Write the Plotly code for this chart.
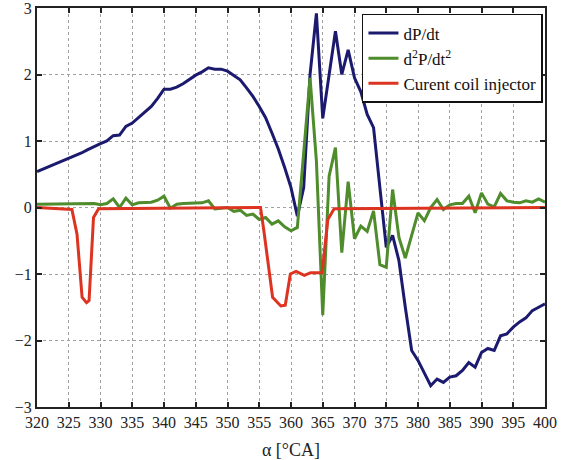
import plotly.graph_objects as go

# dP/dt sampled every degree
angle = list(range(320, 401))
dpdt = [0.54, 0.58, 0.62, 0.66, 0.69, 0.73, 0.78, 0.82, 0.87, 0.92,
        0.96, 1.0, 1.08, 1.09, 1.22, 1.27, 1.35, 1.43, 1.52, 1.64,
        1.78, 1.78, 1.81, 1.86, 1.93, 1.99, 2.04, 2.1, 2.08, 2.08,
        2.05, 1.98, 1.92, 1.8, 1.67, 1.52, 1.35, 1.12, 0.88, 0.6,
        0.3, -0.13, 0.3, 2.0, 2.92, 1.34, 2.0, 2.65, 2.0, 2.37,
        1.95, 1.74, 1.4, 1.2, 0.3, -0.6, -0.42, -0.8, -1.5, -2.15,
        -2.3, -2.5, -2.68, -2.58, -2.63, -2.55, -2.53, -2.45, -2.33, -2.4,
        -2.18, -2.12, -2.15, -1.93, -1.9, -1.8, -1.72, -1.66, -1.55, -1.5,
        -1.45]

# d2P/dt2 sampled every degree
d2pdt2 = [0.05, 0.05, 0.05, 0.05, 0.05, 0.05, 0.06, 0.06, 0.05, 0.06,
          0.04, 0.06, 0.13, 0.0, 0.14, 0.04, 0.07, 0.08, 0.08, 0.11,
          0.17, -0.01, 0.05, 0.06, 0.06, 0.07, 0.07, 0.1, -0.02, -0.01,
          0.0, -0.06, -0.04, -0.12, -0.1, -0.18, -0.15, -0.25, -0.2, -0.29,
          -0.35, -0.3, 0.8, 1.95, 0.7, -1.62, 0.47, 0.9, -0.68, 0.39,
          -0.47, -0.28, -0.36, -0.05, -0.86, -0.9, 0.27, -0.45, -0.76, -0.43,
          -0.08, -0.2, 0.0, 0.12, -0.03, 0.04, 0.06, 0.06, 0.17, -0.08,
          0.22, 0.05, 0.01, 0.21, 0.1, 0.08, 0.07, 0.1, 0.08, 0.13,
          0.08]

# injector coil current
coil_angle = [320, 325.5, 326.3, 327.1, 327.8, 328.2, 328.9, 329.7, 355.2, 355.7,
              357.1, 358.4, 359.1, 359.9, 360.8, 362.1, 363.1, 364.9, 365.8, 366.8, 400]
coil_current = [0, -0.03, -0.4, -1.35, -1.43, -1.4, -0.15, -0.02, 0, -0.33,
                -1.35, -1.48, -1.47, -1.0, -0.96, -1.02, -0.98, -0.98, -0.18, -0.02, 0]

x_ticks = list(range(320, 401, 5))
y_ticks = [-3, -2, -1, 0, 1, 2, 3]

FONT = "Liberation Serif"

fig = go.Figure()
fig.add_trace(go.Scatter(x=angle, y=dpdt, mode="lines", name="dP/dt",
                         line=dict(color="#1b1a6e", width=3)))
fig.add_trace(go.Scatter(x=angle, y=d2pdt2, mode="lines", name="d<sup>2</sup>P/dt<sup>2</sup>",
                         line=dict(color="#4e8c2c", width=3)))
fig.add_trace(go.Scatter(x=coil_angle, y=coil_current, mode="lines", name="Curent coil injector",
                         line=dict(color="#dc3420", width=3)))

axis_common = dict(
    showline=True, linecolor="#222", linewidth=2, mirror="ticks",
    ticks="inside", ticklen=5, tickcolor="#222", tickwidth=1.5,
    showgrid=True, gridcolor="#a0a0a0", griddash="dot", gridwidth=1,
    zeroline=False, automargin=False, ticklabeloverflow="allow",
    tickfont=dict(family=FONT, size=16, color="#222"),
)

fig.update_layout(
    width=565, height=460,
    margin=dict(l=37, r=20, t=8, b=53),
    paper_bgcolor="white", plot_bgcolor="white",
    font=dict(family=FONT, color="#222"),
    showlegend=True,
    legend=dict(
        x=0.996, y=0.985, xanchor="right", yanchor="top",
        xref="paper", yref="paper",
        bgcolor="white", bordercolor="#111", borderwidth=1.5,
        font=dict(family=FONT, size=17, color="#111"),
        tracegroupgap=0, itemwidth=30,
    ),
    xaxis=dict(range=[320, 400], tickvals=x_ticks,
               title=dict(text="α [°CA]", font=dict(family=FONT, size=18), standoff=13),
               **axis_common),
    yaxis=dict(range=[-3, 3], tickvals=y_ticks, **axis_common),
)

fig.write_html("out.html")
